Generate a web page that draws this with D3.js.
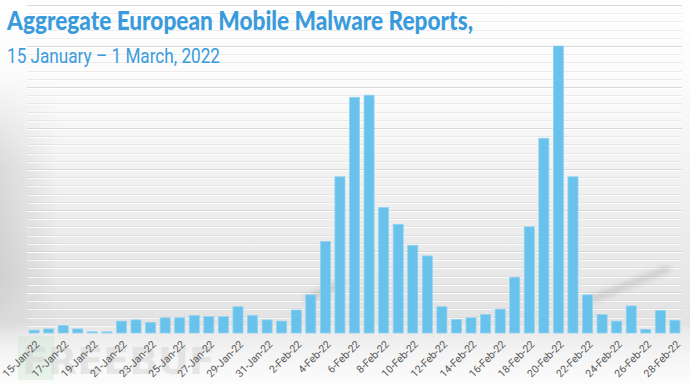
<!DOCTYPE html>
<html lang="en">
  <head>
    <title>European mobile malware reports</title>
    <script type="text/javascript" src="https://d3js.org/d3.v7.min.js"></script>
    <style>
      body { margin: 0; background: #fff; }
      svg { display: block; }
    </style>
  </head>

  <body>
    <div id="chart"></div>

    <script>
      // one bar per day, 15 Jan - 28 Feb 2022
      const days = [
        "15-Jan-22", "16-Jan-22", "17-Jan-22", "18-Jan-22", "19-Jan-22", "20-Jan-22",
        "21-Jan-22", "22-Jan-22", "23-Jan-22", "24-Jan-22", "25-Jan-22", "26-Jan-22",
        "27-Jan-22", "28-Jan-22", "29-Jan-22", "30-Jan-22", "31-Jan-22",
        "1-Feb-22", "2-Feb-22", "3-Feb-22", "4-Feb-22", "5-Feb-22", "6-Feb-22",
        "7-Feb-22", "8-Feb-22", "9-Feb-22", "10-Feb-22", "11-Feb-22", "12-Feb-22",
        "13-Feb-22", "14-Feb-22", "15-Feb-22", "16-Feb-22", "17-Feb-22", "18-Feb-22",
        "19-Feb-22", "20-Feb-22", "21-Feb-22", "22-Feb-22", "23-Feb-22", "24-Feb-22",
        "25-Feb-22", "26-Feb-22", "27-Feb-22", "28-Feb-22"
      ];

      // reports (no axis in the original, so relative units)
      const reports = [
        0.7, 1.0, 1.8, 1.0, 0.3, 0.3, 2.9, 3.2, 2.6, 3.7, 3.7, 4.3,
        4.0, 4.0, 6.4, 4.3, 3.2,
        2.9, 5.6, 9.3, 22.3, 38.1, 57.5, 58.0, 30.6, 26.5, 21.4, 18.8,
        6.4, 3.3, 3.7, 4.5, 5.8, 13.6, 25.9, 47.5, 70.0, 38.1, 9.3,
        4.5, 2.9, 6.6, 0.9, 5.5, 3.1
      ];

      // only every second day gets a label
      const tickDays = days.filter((d, i) => i % 2 === 0);

      const title = "Aggregate European Mobile Malware Reports,";
      const subtitle = "15 January \u2013 1 March, 2022";

      const W = 690, H = 384;
      const plotLeft = 27, plotRight = 682, base = 333, plotTop = 5;

      const svg = d3.select("#chart")
        .append("svg")
          .attr("width", W)
          .attr("height", H);

      const defs = svg.append("defs");

      // backdrop: white at top, grey toward the baseline, lighter below it
      const bg = defs.append("linearGradient")
        .attr("id", "bg").attr("x1", 0).attr("y1", 0).attr("x2", 0).attr("y2", 1);
      [[0, "#ffffff"], [0.22, "#fbfbfb"], [0.55, "#eeeeee"], [0.84, "#e3e3e3"],
       [0.87, "#ececec"], [0.92, "#f4f4f4"], [1, "#fcfcfc"]].forEach(s => {
        bg.append("stop").attr("offset", s[0]).attr("stop-color", s[1]);
      });

      // darker edge on the left
      const vign = defs.append("linearGradient")
        .attr("id", "vign").attr("x1", 0).attr("y1", 0).attr("x2", 1).attr("y2", 0);
      vign.append("stop").attr("offset", 0).attr("stop-color", "#000").attr("stop-opacity", 0.1);
      vign.append("stop").attr("offset", 1).attr("stop-color", "#000").attr("stop-opacity", 0);
      const vfade = defs.append("linearGradient")
        .attr("id", "vfade").attr("x1", 0).attr("y1", 0).attr("x2", 0).attr("y2", 1);
      [[0, 0], [0.35, 1], [0.75, 1], [1, 0]].forEach(s => {
        vfade.append("stop").attr("offset", s[0]).attr("stop-color", "#fff").attr("stop-opacity", s[1]);
      });
      defs.append("mask").attr("id", "vmask")
        .append("rect").attr("x", 0).attr("y", 70).attr("width", 60).attr("height", 280)
        .attr("fill", "url(#vfade)");

      defs.append("filter").attr("id", "blur")
        .attr("x", "-50%").attr("y", "-50%").attr("width", "200%").attr("height", "200%")
        .append("feGaussianBlur").attr("stdDeviation", 3);

      svg.append("rect")
        .attr("width", W).attr("height", H)
        .attr("fill", "url(#bg)");
      svg.append("rect")
        .attr("x", 0).attr("y", 70).attr("width", 60).attr("height", 280)
        .attr("fill", "url(#vign)")
        .attr("mask", "url(#vmask)");

      const x = d3.scaleBand()
        .domain(days)
        .range([plotLeft, plotRight])
        .paddingInner(0.31)
        .paddingOuter(0.14);

      const y = d3.scaleLinear()
        .domain([0, 80])
        .range([base, plotTop]);

      // grid: minor every 2, major every 10
      const gridVals = d3.range(2, 81, 2);
      const grid = svg.append("g");
      grid.selectAll(".gd")
        .data(gridVals)
        .enter().append("line")
          .attr("x1", plotLeft).attr("x2", plotRight)
          .attr("y1", d => Math.round(y(d)) + 0.5)
          .attr("y2", d => Math.round(y(d)) + 0.5)
          .attr("stroke", "#cfcfcf")
          .attr("stroke-opacity", d => d % 10 === 0 ? 0.75 : 0.35);
      grid.selectAll(".gl")
        .data(gridVals)
        .enter().append("line")
          .attr("x1", plotLeft).attr("x2", plotRight)
          .attr("y1", d => Math.round(y(d)) + 1.5)
          .attr("y2", d => Math.round(y(d)) + 1.5)
          .attr("stroke", "#ffffff")
          .attr("stroke-opacity", d => d % 10 === 0 ? 0.95 : 0.7);

      // reflection streaks on the glass
      svg.append("line")
        .attr("x1", 305).attr("y1", 300).attr("x2", 345).attr("y2", 282)
        .attr("stroke", "#000").attr("stroke-opacity", 0.18)
        .attr("stroke-width", 5).attr("filter", "url(#blur)");
      svg.append("line")
        .attr("x1", 590).attr("y1", 300).attr("x2", 670).attr("y2", 268)
        .attr("stroke", "#000").attr("stroke-opacity", 0.16)
        .attr("stroke-width", 5).attr("filter", "url(#blur)");

      // bars
      svg.append("g")
        .selectAll("rect")
        .data(reports)
        .enter().append("rect")
          .attr("x", (d, i) => x(days[i]))
          .attr("y", d => y(d))
          .attr("width", x.bandwidth())
          .attr("height", d => base - y(d))
          .attr("fill", "#68c2eb")
          .attr("stroke", "#93d3f2")
          .attr("stroke-width", 0.8);

      // faint watermark
      svg.append("rect")
        .attr("x", 18).attr("y", 336).attr("width", 36).attr("height", 44)
        .attr("fill", "#cfe6d8").attr("opacity", 0.45);
      svg.append("text")
        .attr("x", 22).attr("y", 374)
        .attr("fill", "#d4d4d4").attr("opacity", 0.5)
        .style("font-family", "'DejaVu Sans', sans-serif")
        .style("font-weight", "bold")
        .style("font-size", "38px")
        .text("FREEBUF");

      // x axis labels, rotated
      const xAxis = d3.axisBottom(x).tickValues(tickDays).tickSize(0).tickPadding(0);
      const ax = svg.append("g")
        .attr("transform", "translate(0," + base + ")")
        .call(xAxis);
      ax.select(".domain").remove();
      ax.selectAll("text")
        .attr("fill", "#5a5a5a")
        .style("font-family", "'Liberation Sans Narrow', Roboto, sans-serif")
        .style("font-size", "10.5px")
        .attr("text-anchor", "end")
        .attr("dy", 0)
        .attr("y", 0)
        .attr("transform", "translate(6,12) rotate(-45)");

      // titles
      svg.append("text")
        .attr("x", 7).attr("y", 30)
        .attr("fill", "#3a9bdc")
        .attr("textLength", 466)
        .attr("lengthAdjust", "spacingAndGlyphs")
        .style("font-family", "Lato, 'Open Sans', sans-serif")
        .style("font-weight", 900)
        .style("font-size", "26px")
        .text(title);

      svg.append("text")
        .attr("x", 7).attr("y", 63)
        .attr("fill", "#3a9bdc")
        .attr("textLength", 213)
        .attr("lengthAdjust", "spacingAndGlyphs")
        .style("font-family", "'Liberation Sans Narrow', Roboto, sans-serif")
        .style("font-size", "21px")
        .text(subtitle);
    </script>

  </body>
</html>
